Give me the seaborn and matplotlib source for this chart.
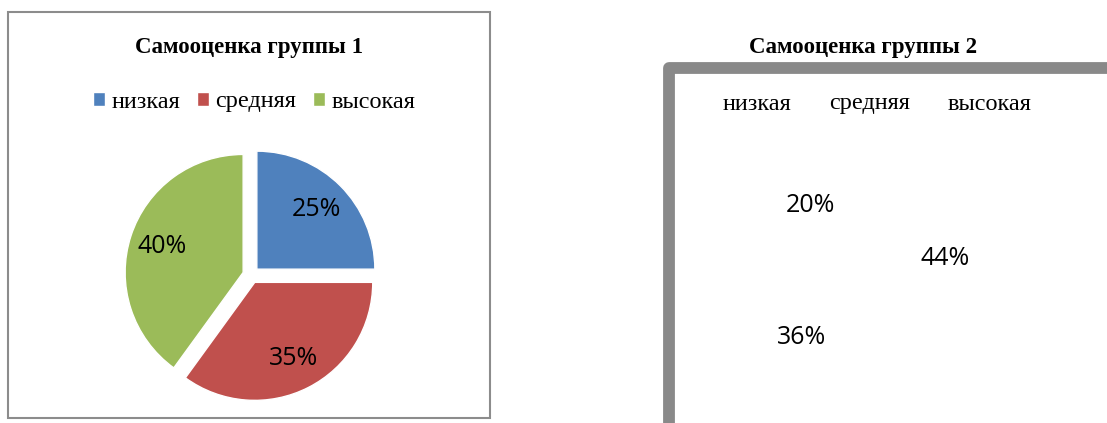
import matplotlib
matplotlib.use("Agg")
import matplotlib.pyplot as plt
import seaborn as sns
from matplotlib.patches import Rectangle
from matplotlib.lines import Line2D

sns.set_theme(style="white")
plt.rcParams['font.family'] = ['Liberation Serif', 'DejaVu Serif']
plt.rcParams['text.color'] = 'black'

# ---- data ----
categories = ["низкая", "средняя", "высокая"]
group1_values = [25, 35, 40]
group2_values = [20, 36, 44]
title1 = "Самооценка группы 1"
title2 = "Самооценка группы 2"
colors1 = ["#4F81BD", "#C0504D", "#9BBB59"]

W, H = 1107, 423
fig = plt.figure(figsize=(W / 100, H / 100), dpi=100)
fig.patch.set_facecolor("white")

L = 1.35
R_PX = 118


def px_axes(cx, cy):
    half = R_PX * L
    return fig.add_axes([(cx - half) / W, 1 - (cy + half) / H, 2 * half / W, 2 * half / H])


pct_font = dict(family=["Open Sans", "DejaVu Sans"], size=18, color="black")

# ---- left chart ----
fig.add_artist(Rectangle((8 / W, 1 - 418 / H), (490 - 8) / W, (418 - 12) / H,
                         transform=fig.transFigure, fill=False,
                         edgecolor="#8c8c8c", linewidth=1.5))
ax1 = px_axes(251, 275)
wedges1, _, autotexts1 = ax1.pie(group1_values, colors=colors1, startangle=90,
                                 counterclock=False, explode=[0.07] * 3,
                                 autopct=lambda p: f"{p:.0f}%", pctdistance=0.72,
                                 textprops=pct_font)
ax1.set_xlim(-L, L)
ax1.set_ylim(-L, L)
ax1.axis("off")
fig.text(249 / W, 1 - 47 / H, title1, ha="center", va="center",
         fontsize=16.5, fontweight="bold", color="black")
fig.legend(wedges1, categories, loc="center", bbox_to_anchor=(254 / W, 1 - 102 / H),
           ncol=3, frameon=False, handlelength=0.5, handleheight=0.5,
           handletextpad=0.25, columnspacing=0.7, prop=dict(size=17.5),
           labelcolor="black")

# ---- right chart ----
fig.add_artist(Line2D([669 / W, 669 / W, 1130 / W], [1 - 450 / H, 1 - 68 / H, 1 - 68 / H],
                      transform=fig.transFigure, color="#898989", linewidth=8.5,
                      solid_joinstyle="round", solid_capstyle="butt"))
ax2 = px_axes(861, 275)
wedges2, _, autotexts2 = ax2.pie(group2_values, colors=["white"] * 3, startangle=90,
                                 counterclock=True,
                                 autopct=lambda p: f"{p:.0f}%", pctdistance=0.73,
                                 textprops=pct_font)
ax2.set_xlim(-L, L)
ax2.set_ylim(-L, L)
ax2.axis("off")
fig.text(863 / W, 1 - 48 / H, title2, ha="center", va="center",
         fontsize=16.5, fontweight="bold", color="black")
fig.legend(wedges2, categories, loc="center", bbox_to_anchor=(868 / W, 1 - 104 / H),
           ncol=3, frameon=False, handlelength=0.5, handleheight=0.5,
           handletextpad=0.25, columnspacing=0.8, prop=dict(size=17.5),
           labelcolor="black")

fig.savefig("out.png", dpi=100, facecolor="white")
